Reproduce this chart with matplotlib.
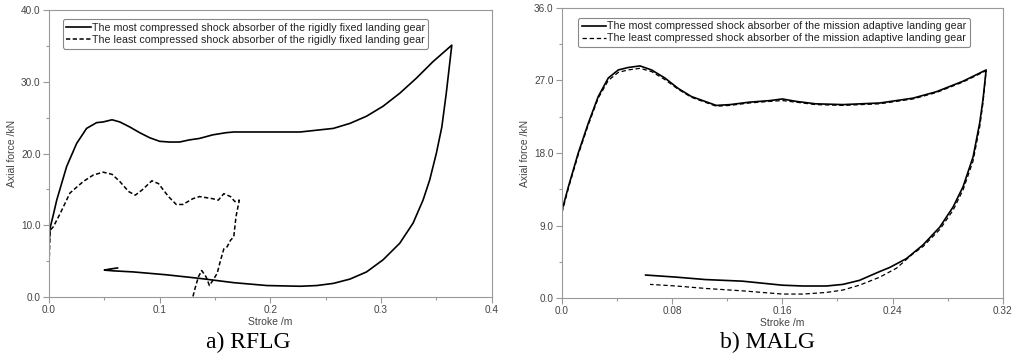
import numpy as np
import matplotlib.pyplot as plt
from matplotlib.ticker import MultipleLocator

plt.rcParams['font.family'] = ['Liberation Sans', 'DejaVu Sans']

# a) RFLG - most compressed shock absorber (loading then unloading)
a_most_x = [0.0, 0.0, 0.001, 0.004, 0.007, 0.016, 0.025, 0.034, 0.043, 0.049, 0.057, 0.064,
            0.073, 0.082, 0.091, 0.100, 0.109, 0.118, 0.127, 0.136, 0.148, 0.160, 0.167,
            0.197, 0.227, 0.257, 0.272, 0.287, 0.302, 0.317, 0.332, 0.347, 0.364,
            0.359, 0.355, 0.350, 0.344, 0.338, 0.329, 0.317, 0.302, 0.287, 0.272, 0.257,
            0.242, 0.227, 0.197, 0.167, 0.136, 0.106, 0.076, 0.058, 0.050, 0.055, 0.062]
a_most_y = [5.0, 7.0, 9.6, 11.5, 13.5, 18.2, 21.4, 23.5, 24.3, 24.4, 24.7, 24.4,
            23.7, 22.9, 22.2, 21.7, 21.6, 21.6, 21.9, 22.1, 22.6, 22.9, 23.0,
            23.0, 23.0, 23.5, 24.2, 25.2, 26.6, 28.4, 30.5, 32.8, 35.1,
            28.4, 23.7, 20.0, 16.3, 13.5, 10.3, 7.5, 5.2, 3.5, 2.5, 1.9,
            1.6, 1.5, 1.6, 2.0, 2.6, 3.1, 3.5, 3.65, 3.75, 3.9, 4.05]

# a) RFLG - least compressed shock absorber
a_least_x = [0.0, 0.001, 0.004, 0.010, 0.019, 0.031, 0.040, 0.049, 0.057, 0.064, 0.072,
             0.078, 0.084, 0.093, 0.099, 0.108, 0.115, 0.121, 0.130, 0.136, 0.148, 0.153,
             0.158, 0.164, 0.168, 0.172,
             0.169, 0.167, 0.164, 0.161, 0.158, 0.155, 0.152, 0.148, 0.145, 0.142, 0.138,
             0.135, 0.132, 0.130]
a_least_y = [3.8, 9.3, 9.8, 11.6, 14.5, 16.1, 17.0, 17.4, 17.1, 16.1, 14.7,
             14.2, 14.9, 16.2, 15.8, 14.0, 12.9, 12.9, 13.7, 14.0, 13.7, 13.5,
             14.4, 14.0, 13.3, 13.5,
             11.2, 8.4, 7.9, 7.0, 6.7, 5.1, 3.3, 2.3, 1.6, 2.8, 3.7,
             2.8, 1.2, 0.0]

# b) MALG - most compressed shock absorber
b_most_x = [0.0, 0.0, 0.0046, 0.0118, 0.0191, 0.0263, 0.0336, 0.0409, 0.048, 0.0566,
            0.065, 0.0747, 0.0844, 0.094, 0.1038, 0.112, 0.122, 0.136, 0.151, 0.160,
            0.170, 0.184, 0.204, 0.2308, 0.2549, 0.2719, 0.2912, 0.308,
            0.3057, 0.3033, 0.2985, 0.2912, 0.284, 0.2743, 0.2622, 0.2501, 0.238, 0.2308,
            0.216, 0.204, 0.192, 0.175, 0.160, 0.131, 0.104, 0.083, 0.0607]
b_most_y = [0.0, 10.9, 13.8, 18.0, 21.7, 25.0, 27.3, 28.3, 28.6, 28.8,
            28.3, 27.3, 26.0, 25.0, 24.4, 23.9, 24.0, 24.3, 24.5, 24.7,
            24.4, 24.1, 24.0, 24.2, 24.8, 25.6, 26.9, 28.3,
            24.6, 21.7, 17.5, 13.8, 11.3, 8.8, 6.6, 4.9, 3.8, 3.3,
            2.2, 1.7, 1.5, 1.5, 1.6, 2.1, 2.3, 2.6, 2.86]

# b) MALG - least compressed shock absorber
b_least_x = [0.0, 0.0, 0.0046, 0.0118, 0.0191, 0.0263, 0.0336, 0.0409, 0.048, 0.0566,
             0.065, 0.0747, 0.0844, 0.094, 0.1038, 0.112, 0.122, 0.136, 0.151, 0.160,
             0.170, 0.184, 0.204, 0.2308, 0.2549, 0.2719, 0.2912, 0.308,
             0.3057, 0.3033, 0.2985, 0.2912, 0.284, 0.2743, 0.2622, 0.2549, 0.2428, 0.2308,
             0.216, 0.204, 0.192, 0.175, 0.160, 0.131, 0.104, 0.083, 0.0639]
b_least_y = [0.0, 10.6, 13.6, 17.8, 21.5, 24.8, 27.0, 28.0, 28.3, 28.5,
             28.1, 27.1, 25.9, 24.9, 24.3, 23.8, 23.9, 24.2, 24.4, 24.5,
             24.3, 24.0, 23.9, 24.1, 24.7, 25.5, 26.8, 28.2,
             24.2, 21.2, 17.0, 13.4, 10.9, 8.5, 6.4, 5.5, 3.7, 2.6,
             1.6, 1.0, 0.7, 0.5, 0.5, 0.9, 1.2, 1.5, 1.7]

a_labels = ['The most compressed shock absorber of the rigidly fixed landing gear',
            'The least compressed shock absorber of the rigidly fixed landing gear']
b_labels = ['The most compressed shock absorber of the mission adaptive landing gear',
            'The least compressed shock absorber of the mission adaptive landing gear']

fig = plt.figure(figsize=(10.2, 3.57), dpi=100)
ax1 = fig.add_axes([0.048, 0.168, 0.434, 0.804])
ax2 = fig.add_axes([0.551, 0.165, 0.432, 0.813])

grey = '#999999'
txt = '#444444'


def style(ax, xmaj, xmin, ymaj, ymin, xlim, ylim, xfmt, yfmt):
    ax.set_xlim(*xlim)
    ax.set_ylim(*ylim)
    ax.xaxis.set_major_locator(MultipleLocator(xmaj))
    ax.xaxis.set_minor_locator(MultipleLocator(xmin))
    ax.yaxis.set_major_locator(MultipleLocator(ymaj))
    ax.yaxis.set_minor_locator(MultipleLocator(ymin))
    ax.xaxis.set_major_formatter(xfmt)
    ax.yaxis.set_major_formatter(yfmt)
    for s in ax.spines.values():
        s.set_color(grey)
        s.set_linewidth(0.8)
    ax.tick_params(which='major', direction='out', length=4, width=0.8, color=grey,
                   labelsize=7.2, labelcolor=txt, pad=2)
    ax.tick_params(which='minor', direction='out', length=2.5, width=0.8, color=grey)
    ax.set_xlabel('Stroke /m', fontsize=7.5, color=txt, labelpad=1)
    ax.set_ylabel('Axial force /kN', fontsize=7.5, color=txt, labelpad=3)


def legend(ax, anchor):
    leg = ax.legend(loc='upper left', bbox_to_anchor=anchor, fontsize=7.7,
                    fancybox=True, edgecolor='#888888', handlelength=2.3,
                    handletextpad=0.05, borderpad=0.35, labelspacing=0.18,
                    borderaxespad=0, framealpha=1)
    leg.get_frame().set_linewidth(0.8)
    for t in leg.get_texts():
        t.set_color('#222222')
    return leg


ax1.plot(a_most_x, a_most_y, color='black', lw=1.2, label=a_labels[0])
ax1.plot(a_least_x, a_least_y, color='black', lw=1.1, ls=(0, (2.8, 1.6)), label=a_labels[1])
style(ax1, 0.1, 0.05, 10, 5, (0, 0.4), (0, 40), '{x:.1f}', '{x:.1f}')
legend(ax1, (0.031, 0.968))

ax2.plot(b_most_x, b_most_y, color='black', lw=1.2, label=b_labels[0])
ax2.plot(b_least_x, b_least_y, color='black', lw=0.9, ls=(0, (3.5, 2.2)), label=b_labels[1])
style(ax2, 0.08, 0.04, 9, 4.5, (0, 0.32), (0, 36),
      lambda v, p: '0.0' if abs(v) < 1e-9 else f'{v:.2f}', '{x:.1f}')
legend(ax2, (0.036, 0.966))

fig.text(0.243, 0.042, 'a) RFLG', fontsize=17, family=['Liberation Serif', 'DejaVu Serif'],
         ha='center', va='center')
fig.text(0.752, 0.042, 'b) MALG', fontsize=17, family=['Liberation Serif', 'DejaVu Serif'],
         ha='center', va='center')

fig.savefig('out.png', dpi=100)
